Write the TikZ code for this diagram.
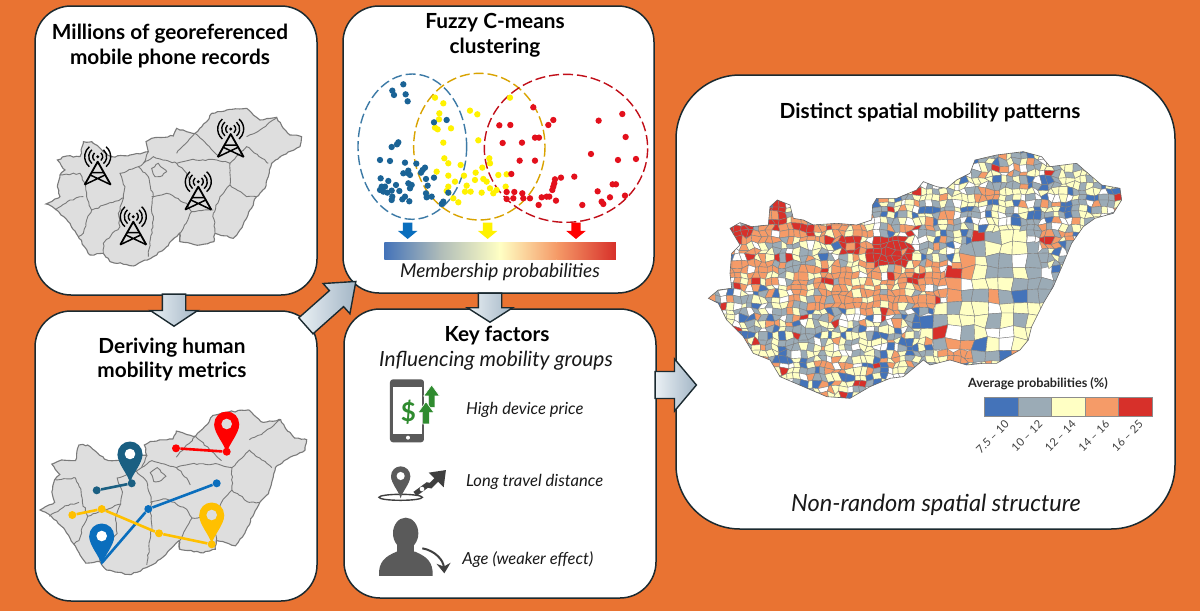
\documentclass[tikz,border=0pt]{standalone}
\usepackage{fontspec}
\setmainfont{Lato}
\usetikzlibrary{shapes.arrows,arrows.meta,decorations.pathmorphing}

\definecolor{bgorange}{HTML}{E97332}
\definecolor{framedark}{HTML}{1B2A30}
\definecolor{arrowlight}{HTML}{EAF0F4}
\definecolor{arrowdark}{HTML}{A3B6C6}
\definecolor{mapfill}{HTML}{DEDEDE}
\definecolor{mapline}{HTML}{7A7A7A}
\definecolor{teal}{HTML}{1A5F82}
\definecolor{pinblue}{HTML}{0A6EBD}
\definecolor{pinyellow}{HTML}{FFC000}
\definecolor{dotblue}{HTML}{1A6396}
\definecolor{dotyellow}{HTML}{FFF200}
\definecolor{dotred}{HTML}{E3101C}
\definecolor{lgblue}{HTML}{4473B9}
\definecolor{lggray}{HTML}{9BABB6}
\definecolor{lgyellow}{HTML}{FFFFC4}
\definecolor{lgorange}{HTML}{F59B68}
\definecolor{lgred}{HTML}{D7302A}
\definecolor{icongray}{HTML}{5A5A5A}
\definecolor{icongreen}{HTML}{2F8B2F}

\tikzset{
	panel/.style={draw=framedark, line width=0.75pt, fill=white, rounded corners=18pt, inner sep=0pt},
	paneltitle/.style={font=\bfseries\fontsize{10.4}{12}\selectfont, text=black, inner sep=0pt},
	note/.style={font=\itshape\fontsize{8.3}{10}\selectfont, text=black!90, inner sep=0pt},
	flowarrow/.style={single arrow, draw=framedark, line width=0.7pt, left color=arrowlight, right color=arrowdark, inner xsep=0pt},
	county/.style={draw=mapline, line width=0.45pt, decorate, decoration={random steps,segment length=1.6pt,amplitude=0.4pt}},
	route/.style={line width=1.3pt},
	routedot/.style={circle, inner sep=0pt, minimum size=4pt},
	cell/.style={draw=black!50, line width=0.2pt},
	pics/locpin/.style 2 args={code={
		\fill[#1] (0,0) .. controls (-2,-9) and (-12.5,-19) .. (-12.5,-29) -- (12.5,-29) .. controls (12.5,-19) and (2,-9) .. (0,0) -- cycle;
		\fill[#1] (0,-29) circle (12.5);
		\fill[#2] (0,-29) circle (5.3);
	}},
	pics/celltower/.style={code={
		\draw[line width=0.9pt, line join=round] (-13,23) -- (0,0) -- (13,23);
		\draw[line width=0.75pt] (-13,23) -- (8,13) (13,23) -- (-8,13) (-6,11) -- (6,11);
		\foreach \r in {5,9,13}{
			\draw[line width=0.7pt] (0,-5)++(-50:\r) arc (-50:50:\r);
			\draw[line width=0.7pt] (0,-5)++(130:\r) arc (130:230:\r);
		}
		\fill (0,-5) circle (1.6);
	}}
}

% small map of the counties, in its own traced coordinates
\def\hunoutline{(78,612) -- (105,597) -- (120,590) -- (112,560) -- (120,525) -- (135,510) -- (112,480) -- (140,468) -- (180,470) -- (190,425) -- (215,425) -- (250,455) -- (275,470) -- (330,465) -- (385,455) -- (378,425) -- (395,415) -- (460,408) -- (470,385) -- (500,395) -- (525,400) -- (560,365) -- (575,340) -- (620,330) -- (680,325) -- (700,345) -- (720,360) -- (770,352) -- (790,385) -- (810,405) -- (845,410) -- (840,440) -- (790,465) -- (755,490) -- (745,530) -- (735,565) -- (710,590) -- (690,630) -- (660,690) -- (640,715) -- (585,700) -- (582,725) -- (540,735) -- (480,725) -- (478,700) -- (440,740) -- (400,770) -- (340,798) -- (270,785) -- (250,760) -- (210,765) -- (175,710) -- (150,670) -- (110,630) -- cycle}
\def\hunmap{
	\filldraw[county, fill=mapfill, line width=0.55pt] \hunoutline;
	\draw[county] (120,525) -- (180,520) -- (195,550) -- (200,590) -- (215,630) -- (310,595) -- (315,560) -- (300,520) -- (355,500) -- (370,490) -- (385,455);
	\draw[county] (105,630) -- (150,600) -- (190,590);
	\draw[county] (215,630) -- (200,660) -- (190,700) -- (175,710);
	\draw[county] (310,595) -- (295,640) -- (300,680) -- (250,730) -- (250,760);
	\draw[county] (355,500) -- (385,530) -- (400,590) -- (395,620) -- (400,660) -- (385,770);
	\draw[county] (395,590) -- (440,580) -- (500,610) -- (515,635) -- (480,700) -- (478,725);
	\draw[county] (370,490) -- (400,470) -- (470,490) -- (500,520) -- (510,540);
	\draw[county] (470,460) -- (525,400);
	\draw[county] (470,490) -- (510,480) -- (590,480) -- (630,490) -- (630,555) -- (600,590) -- (580,640) -- (585,700);
	\draw[county] (630,555) -- (680,590) -- (710,590);
	\draw[county] (630,490) -- (680,440) -- (745,490);
	\draw[county] (680,410) -- (720,390) -- (770,352);
	\draw[county] (525,400) -- (600,470);
	\draw[county] (515,635) -- (580,630);
	\draw[county] (395,505) -- (415,490) -- (440,515) -- (420,530) -- (405,530) -- cycle;
}

% big map: jittered grid of cells, coloured by zones
\def\bigoutline{(55,505) -- (85,480) -- (125,475) -- (120,430) -- (125,370) -- (150,345) -- (120,295) -- (150,278) -- (185,290) -- (235,285) -- (240,230) -- (262,210) -- (300,225) -- (310,265) -- (340,270) -- (370,285) -- (440,280) -- (500,285) -- (545,270) -- (548,225) -- (560,205) -- (620,205) -- (680,180) -- (700,155) -- (740,170) -- (770,175) -- (800,150) -- (840,130) -- (855,90) -- (920,75) -- (1000,65) -- (1055,80) -- (1080,110) -- (1160,100) -- (1200,135) -- (1235,165) -- (1290,175) -- (1295,210) -- (1270,250) -- (1215,265) -- (1180,290) -- (1145,340) -- (1120,400) -- (1090,470) -- (1060,520) -- (1025,590) -- (1015,630) -- (990,660) -- (920,700) -- (880,700) -- (830,705) -- (780,690) -- (720,705) -- (700,690) -- (640,740) -- (600,745) -- (540,770) -- (480,805) -- (410,800) -- (340,770) -- (270,740) -- (240,690) -- (190,670) -- (160,620) -- (110,570) -- (85,520) -- cycle}
\def\vx#1#2{(50+#1*20+(mod(#1*#1+#2*#2*3+#1*#2+#1,11)-5)*1.3)}
\def\vy#1#2{(50+#2*18+(mod(#1*#1*2+#2*#2+#1*#2+#2,13)-6)*1.0)}
\def\inell#1#2#3#4{(((\cx-#1)/#3)^2+((\cy-#2)/#4)^2<1)}

\begin{document}
\begin{tikzpicture}[x=0.5pt,y=-0.5pt]
	%%%%% START %%%%%

	\fill[bgorange] (0,0) rectangle (1200,611);

	\node[panel, minimum width=141pt, minimum height=144.5pt] (millions) at (176,150.5) {};
	\node[panel, minimum width=141pt, minimum height=145pt] (deriving) at (176,456) {};
	\node[panel, minimum width=155.5pt, minimum height=143.5pt] (fuzzy) at (498.5,149.5) {};
	\node[panel, minimum width=156pt, minimum height=144.5pt] (factors) at (500,453.5) {};
	\node[panel, rounded corners=32pt, minimum width=249.5pt, minimum height=227pt] (patterns) at (925.5,302) {};

	\node[flowarrow, rotate=-90, anchor=tip, inner ysep=5.5pt, minimum height=16pt, minimum width=23pt, single arrow head extend=6pt, single arrow tip angle=113] (arrowa) at (174,327) {};
	\node[flowarrow, rotate=41.6, anchor=tip, inner ysep=5pt, minimum height=33.4pt, minimum width=19.5pt, single arrow head extend=4.75pt, single arrow tip angle=76] (arrowb) at (356.7,280.7) {};
	\node[flowarrow, rotate=-90, anchor=tip, inner ysep=5.5pt, minimum height=14.5pt, minimum width=22pt, single arrow head extend=5.5pt, single arrow tip angle=115] (arrowc) at (490,323) {};
	\node[flowarrow, anchor=tip, inner ysep=6.4pt, minimum height=20.6pt, minimum width=25.4pt, single arrow head extend=6.3pt, single arrow tip angle=100] (arrowd) at (697.3,385) {};

	% first panel
	\node[paneltitle] (titlea) at (170,34) {Millions of georeferenced};
	\node[paneltitle] (titleb) at (170,59) {mobile phone records};
	\begin{scope}[shift={(20,0)},scale=0.3333]
		\hunmap
	\end{scope}
	\pic at (97.7,161.7) {celltower};
	\pic at (230.7,134) {celltower};
	\pic at (198.3,186.7) {celltower};
	\pic at (133.3,221.7) {celltower};

	% second panel
	\node[paneltitle] (titlec) at (172,347.5) {Deriving human};
	\node[paneltitle] (titled) at (172,372) {mobility metrics};
	\begin{scope}[shift={(12.9,297.2)},scale=0.3477]
		\hunmap
	\end{scope}
	\pic at (226.7,453) {locpin={red}{mapfill}};
	\pic at (130,483) {locpin={teal}{white}};
	\pic at (101.7,565) {locpin={pinblue}{white}};
	\pic at (211.7,544) {locpin={pinyellow}{mapfill}};

	\node[routedot, fill=red] (reda) at (176,448.3) {};
	\node[routedot, fill=red] (redb) at (226.7,451.7) {};
	\draw[route, red] (reda) -- (redb);
	\node[routedot, fill=teal] (teala) at (96.7,490.3) {};
	\node[routedot, fill=teal] (tealb) at (131.7,483.3) {};
	\draw[route, teal] (teala) -- (tealb);
	\coordinate (bluea) at (101.7,563);
	\node[routedot, fill=pinblue] (blueb) at (148.3,509) {};
	\node[routedot, fill=pinblue] (bluec) at (216.7,483.3) {};
	\draw[route, pinblue] (bluea) -- (blueb) -- (bluec);
	\node[routedot, fill=pinyellow] (yellowa) at (72.3,515) {};
	\node[routedot, fill=pinyellow] (yellowb) at (101.7,509) {};
	\node[routedot, fill=pinyellow] (yellowc) at (159,533.3) {};
	\node[routedot, fill=pinyellow] (yellowd) at (211.7,544.3) {};
	\draw[route, pinyellow] (yellowa) -- (yellowb) -- (yellowc) -- (yellowd);

	% third panel
	\node[paneltitle] (titlee) at (495,23) {Fuzzy C-means};
	\node[paneltitle] (titlef) at (495,47.5) {clustering};
	\begin{scope}[shift={(340,0)},scale=0.3333]
		\draw[dotblue!85, line width=0.7pt, dash pattern=on 5pt off 2pt] (217,440) ellipse (163 and 218);
		\draw[pinyellow!85!black, line width=0.7pt, dash pattern=on 5pt off 2pt] (418,440) ellipse (197 and 220);
		\draw[dotred!85!black, line width=0.7pt, dash pattern=on 5pt off 2pt] (678,445) ellipse (245 and 222);
		\foreach \x/\y in {285/293,310/310,298/340,297/358,285/383,293/388,333/385,390/332,412/343,310/428,415/421,313/475,325/490,448/475,450/490,362/495,290/515,325/527,407/518,405/540,427/503,372/527,430/537,440/545,475/525,500/523,345/545,325/560,320/573,380/557,375/575,392/575,425/578,460/580,450/565,470/570,497/560,340/595,355/607,510/293,325/578}
			\fill[dotyellow] (\x,\y) circle (9.5);
		\foreach \x/\y in {190/253,157/272,162/285,197/283,203/304,320/360,282/367,175/427,171/433,155/441,120/480,150/483,195/488,229/491,255/503,248/510,243/518,190/520,205/512,210/525,122/535,145/543,135/560,168/555,125/560,130/575,120/570,155/572,142/578,178/573,205/550,215/555,210/565,258/537,282/533,263/557,157/590,155/600,195/590,187/598,208/604,258/580,260/592,275/590,325/578,310/605,305/612,205/520}
			\fill[dotblue] (\x,\y) circle (9.5);
		\foreach \x/\y in {580/322,640/360,625/375,478/376,511/375,585/413,597/413,488/429,546/428,539/482,585/482,514/522,776/362,847/342,857/411,753/462,834/480,888/477,703/530,663/533,645/538,643/550,640/560,637/570,500/576,523/576,547/580,500/597,520/595,550/595,570/595,605/592,620/590,628/590,648/602,596/615,727/615,773/574,785/605,790/612,810/592,818/553,828/553,855/587}
			\fill[dotred] (\x,\y) circle (9.5);
		\foreach \x/\c in {203/pinblue,443/yellow,708/red}
			\fill[\c] (\x-14,668) -- (\x+14,668) -- (\x+14,693) -- (\x+29,693) -- (\x,717) -- (\x-29,693) -- (\x-14,693) -- cycle;
		\shade[left color=lgblue, right color=lggray!80!lgyellow] (133,727) rectangle (300,780);
		\shade[left color=lggray!80!lgyellow, right color=lgyellow] (299,727) rectangle (480,780);
		\shade[left color=lgyellow, right color=lgorange] (479,727) rectangle (650,780);
		\shade[left color=lgorange, right color=lgred] (649,727) rectangle (828,780);
	\end{scope}
	\node[note, font=\itshape\fontsize{9.55}{11}\selectfont] (membership) at (500,272) {Membership probabilities};

	% fourth panel
	\node[paneltitle] (titleg) at (497,336) {Key factors};
	\node[note, font=\itshape\fontsize{10.45}{12}\selectfont] (influencing) at (496,361) {Influencing mobility groups};
	\node[note, anchor=west] (itema) at (465.7,410) {High device price};
	\node[note, anchor=west] (itemb) at (465.7,481.7) {Long travel distance};
	\node[note, anchor=west] (itemc) at (462,560) {Age (weaker effect)};
	\begin{scope}[shift={(340,290)},scale=0.3333]
		% phone
		\fill[icongray, rounded corners=1.5pt] (150,268) rectangle (252,457);
		\fill[white] (158,292) rectangle (245,433);
		\fill[white] (204,443) circle (6);
		\node[font=\bfseries\fontsize{13}{13}\selectfont, text=icongreen, inner sep=0pt] (dollar) at (205,368) {\$};
		\foreach \x/\y in {275/285,258/335}
			\filldraw[icongreen, draw=white, line width=0.3pt] (\x,\y) -- (\x+24,\y+33) -- (\x+10,\y+33) -- (\x+10,\y+67) -- (\x-10,\y+67) -- (\x-10,\y+33) -- (\x-24,\y+33) -- cycle;
		% pin on a ring with rising arrow
		\draw[icongray!70!black, line width=0.7pt] (182,622) ellipse (65 and 9);
		\pic[scale=0.77] at (182,625) {locpin={icongray}{white}};
		\draw[icongray!70!black, line width=2.6pt, -{Triangle[length=7pt,width=10pt]}] (225,612) -- (262,585) -- (272,587) -- (318,540);
		\fill[white] (246,597) circle (7);
		% person
		\fill[icongray] (197,730) ellipse (38 and 47);
		\fill[icongray] (172,760) rectangle (222,800);
		\fill[icongray] (117,858) .. controls (115,815) and (135,800) .. (170,785) -- (225,785) .. controls (260,800) and (280,815) .. (278,858) -- cycle;
		\draw[icongray!70!black, line width=1pt, -{Stealth[length=5pt,width=7pt]}] (247,775) .. controls (285,782) and (310,810) .. (313,850);
	\end{scope}

	% fifth panel
	\node[paneltitle] (titleh) at (930,113) {Distinct spatial mobility patterns};
	\node[note, font=\itshape\fontsize{11.8}{14}\selectfont] (nonrandom) at (936,505) {Non-random spatial structure};

	\begin{scope}[shift={(690,130)},scale=0.3333]
		\pgfmathsetseed{11}
		\begin{scope}
			\clip \bigoutline;
			\foreach \i in {0,...,62}{
				\foreach \j in {0,...,42}{
					% the plain in the east has cells of double size
					\pgfmathtruncatemacro\pi{\i-mod(\i,2)}
					\pgfmathtruncatemacro\pj{\j-mod(\j,2)}
					\pgfmathtruncatemacro\plain{((\pi-43)/8)^2+((\pj-24)/11)^2<1 || ((\pi-37)/6)^2+((\pj-29)/5)^2<1 ? 1 : 0}
					\pgfmathtruncatemacro\skipcell{\plain==1 && (\i>\pi || \j>\pj) ? 1 : 0}
					\ifnum\skipcell=0
						\pgfmathtruncatemacro\ii{\i+1+\plain}
						\pgfmathtruncatemacro\jj{\j+1+\plain}
						\pgfmathsetmacro\cx{60+\i*20}
						\pgfmathsetmacro\cy{59+\j*18}
						\pgfmathrandominteger\rnd{0}{99}
						\pgfmathtruncatemacro\zone{
							\inell{600}{365}{72}{52} || \inell{265}{255}{35}{42} || \inell{155}{300}{38}{20} || \inell{340}{300}{42}{18} || \inell{480}{345}{28}{32} || \inell{685}{440}{32}{16} ? 3 :
							(\inell{700}{565}{38}{24} || \inell{960}{435}{32}{16} || \inell{975}{490}{26}{26} || \inell{850}{350}{20}{32} || \inell{1130}{245}{18}{30} ? 5 :
							(\inell{420}{470}{125}{70} || \inell{570}{450}{100}{110} || \inell{300}{315}{210}{32} || \inell{720}{425}{135}{38} || \inell{710}{505}{60}{35} || \inell{800}{670}{50}{40} || \inell{180}{420}{65}{65} || \inell{1075}{335}{38}{27} || \inell{895}{195}{38}{22} || \inell{1080}{230}{25}{25} || \inell{440}{715}{28}{28} || \inell{480}{300}{80}{30} ? 2 :
							(\inell{1050}{470}{68}{110} ? 4 :
							(\inell{930}{400}{95}{130} || \inell{800}{560}{75}{50} || \inell{850}{630}{50}{40} ? 1 : 0))))
						}
						\def\cc{lggray}
						\ifcase\zone
							\ifnum\rnd<32 \def\cc{lgyellow}\else\ifnum\rnd<62 \def\cc{lggray}\else\ifnum\rnd<74 \def\cc{lgblue}\else\ifnum\rnd<85 \def\cc{lgorange}\else\ifnum\rnd<87 \def\cc{lgred}\else\def\cc{white}\fi\fi\fi\fi\fi
						\or
							\ifnum\rnd<72 \def\cc{lgyellow}\else\ifnum\rnd<85 \def\cc{lggray}\else\ifnum\rnd<93 \def\cc{lgblue}\else\ifnum\rnd<96 \def\cc{lgorange}\else\def\cc{white}\fi\fi\fi\fi
						\or
							\ifnum\rnd<66 \def\cc{lgorange}\else\ifnum\rnd<82 \def\cc{lgyellow}\else\ifnum\rnd<90 \def\cc{lggray}\else\ifnum\rnd<95 \def\cc{lgred}\else\def\cc{white}\fi\fi\fi\fi
						\or
							\ifnum\rnd<90 \def\cc{lgred}\else\def\cc{lgorange}\fi
						\or
							\ifnum\rnd<55 \def\cc{lggray}\else\ifnum\rnd<70 \def\cc{lgblue}\else\ifnum\rnd<88 \def\cc{lgyellow}\else\def\cc{white}\fi\fi\fi
						\or
							\ifnum\rnd<85 \def\cc{lgblue}\else\def\cc{lggray}\fi
						\fi
						\filldraw[cell, fill=\cc] ({\vx{\i}{\j}},{\vy{\i}{\j}}) -- ({\vx{\ii}{\j}},{\vy{\ii}{\j}}) -- ({\vx{\ii}{\jj}},{\vy{\ii}{\jj}}) -- ({\vx{\i}{\jj}},{\vy{\i}{\jj}}) -- cycle;
					\fi
				}
			}
		\end{scope}
		\draw[black!60, line width=0.3pt] \bigoutline;
	\end{scope}

	% legend
	\node[anchor=west, inner sep=0pt, font=\bfseries\fontsize{6.35}{7}\selectfont, text=black!85] (legendtitle) at (967.7,384) {Average probabilities (\%)};
	\foreach \k/\c/\t in {0/lgblue/{7.5 -- 10},1/lggray/{10 -- 12},2/lgyellow/{12 -- 14},3/lgorange/{14 -- 16},4/lgred/{16 -- 25}}{
		\filldraw[draw=black!45, line width=0.2pt, fill=\c] (984.3+33.5*\k,396.7) rectangle (984.3+33.5+33.5*\k,416);
		\node[rotate=45, anchor=north east, inner sep=0pt, font=\fontsize{5.6}{6}\selectfont, text=black!75] (legend\k) at (1004+33.5*\k,419) {\t};
	}

	%%%%% END %%%%%
\end{tikzpicture}
\end{document}
